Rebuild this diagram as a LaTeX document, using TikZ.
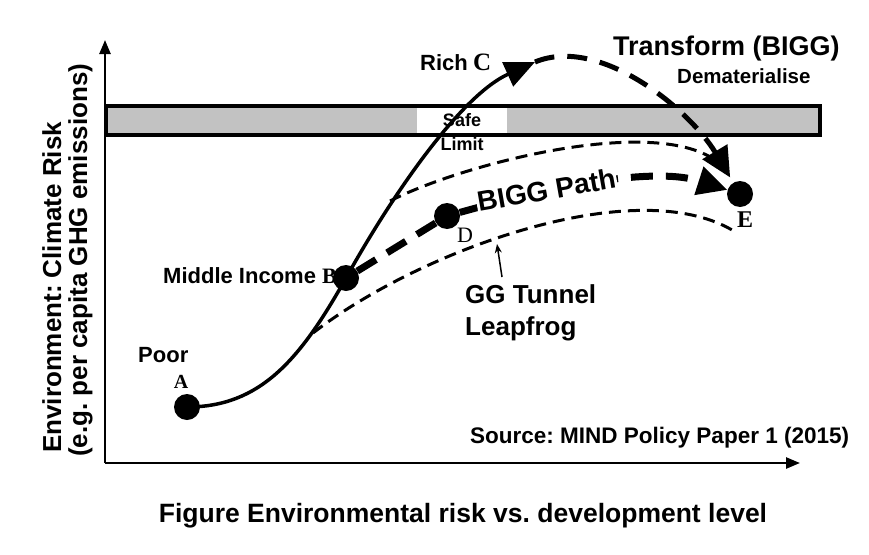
\documentclass[tikz,border=0pt]{standalone}
\usepackage{fontspec}
\setmainfont{Liberation Sans}
\newfontfamily\letterfont{Liberation Serif}
\usetikzlibrary{arrows.meta}
\newcommand\fsz[1]{\fontsize{#1pt}{#1pt}\selectfont}
\frenchspacing
\begin{document}
\begin{tikzpicture}[x=1pt,y=-1pt,
  lbl/.style={inner sep=0pt, font=\bfseries},
  dot/.style={circle, fill=black, inner sep=0pt, minimum size=26pt},
  axis/.style={line width=2.5pt, -{Triangle[length=14pt,width=11pt]}},
  maincurve/.style={line width=3.5pt},
  transform/.style={line width=5pt, dash pattern=on 20pt off 13pt},
  biggpath/.style={line width=7pt, dash pattern=on 22pt off 13pt},
  tunnel/.style={line width=3pt, dash pattern=on 12pt off 7pt},
  bigtip/.style={-{Triangle[length=30pt,width=28pt]}},
  bar/.style={fill=black!24},
]
\useasboundingbox (0,0) rectangle (869,554);
\fill[white] (0,0) rectangle (869,554);

% safe limit bar
\fill[bar] (106,106) rectangle (417,135);
\fill[bar] (507,106) rectangle (820,135);
\draw[line width=4pt] (106,106) rectangle (820,135);
\node[lbl, anchor=base] (safe) at (462,126) {\fsz{18}Safe};
\node[lbl, anchor=base] (limit) at (462,150) {\fsz{18}Limit};

% axes
\coordinate (O) at (105,463);
\coordinate (ytop) at (105,40);
\coordinate (xend) at (800,463);
\draw[axis] (O) -- (ytop);
\draw[axis] (O) -- (xend);

% axis label
\node[lbl, rotate=90, anchor=base west] (ylab1) at (61,453) {\fsz{26}Environment: Climate Risk};
\node[lbl, rotate=90, anchor=base west] (ylab2) at (87,457) {\fsz{26}(e.g. per capita GHG emissions)};

% labels
\node[lbl, anchor=base west] (poor) at (138,362) {\fsz{22}Poor};
\node[lbl, anchor=base] (Alab) at (181,388) {\fsz{20}\letterfont A};
\node[lbl, anchor=base west] (mid) at (163,283) {\fsz{22}Middle Income {\letterfont B}};
\node[lbl, anchor=base west] (rich) at (420,70) {\fsz{22}Rich};
\node[lbl, anchor=base west] (Clab) at (473,70) {\fsz{25}\letterfont C};
\node[lbl, anchor=base west] (Dlab) at (457,242) {\fsz{22}\letterfont\mdseries D};
\node[lbl, anchor=base west] (Elab) at (737,227) {\fsz{24}\letterfont E};
\node[lbl, anchor=base west] (transformlab) at (613,55) {\fsz{27}Transform (BIGG)};
\node[lbl, anchor=base west] (demat) at (677,83) {\fsz{20.5}Dematerialise};
\node[lbl, anchor=base west] (gg1) at (465,303) {\fsz{26}GG Tunnel};
\node[lbl, anchor=base west] (gg2) at (465,335) {\fsz{26}Leapfrog};
\node[lbl, anchor=base west] (source) at (470,443) {\fsz{22.5}Source: MIND Policy Paper 1 (2015)};
\node[lbl, anchor=base] (caption) at (463,522) {\fsz{26.5}Figure Environmental risk vs. development level};

% points
\node[dot] (A) at (187,407) {};
\node[dot] (B) at (346,278) {};
\node[dot] (D) at (447,216) {};
\node[dot] (E) at (740,194) {};
\coordinate (C) at (535,62);

% tunnel
\coordinate (tu1) at (390,201);
\coordinate (tu2) at (715,160);
\coordinate (tl1) at (313,333);
\coordinate (tl2) at (737,233);
\draw[tunnel] (tu1) .. controls (460,165) and (650,115) .. (tu2);
\draw[tunnel] (tl1) .. controls (420,250) and (640,170) .. (tl2);

% main development curve
\draw[maincurve, -{Triangle[length=30pt,width=26pt]}]
  (A.center) .. controls (260,407) and (300,360) .. (B.center)
  .. controls (395,190) and (462,95) .. (C);

% transform path
\draw[transform, bigtip, shorten >=6pt] (C) .. controls (600,35) and (690,110) .. (E);

% BIGG path
\draw[biggpath] (B) -- (D);
\draw[biggpath, bigtip] (D) .. controls (540,190) and (650,165) .. (E);
\node[lbl, rotate=10, anchor=base west, fill=white, inner sep=1pt] (bigglab) at (478,212) {\fsz{28}BIGG Path};

% pointer
\coordinate (ggtail) at (502,277);
\coordinate (ggtip) at (497,244);
\draw[line width=1.5pt, -{Stealth[length=9pt,width=7pt]}] (ggtail) -- (ggtip);
\end{tikzpicture}
\end{document}
